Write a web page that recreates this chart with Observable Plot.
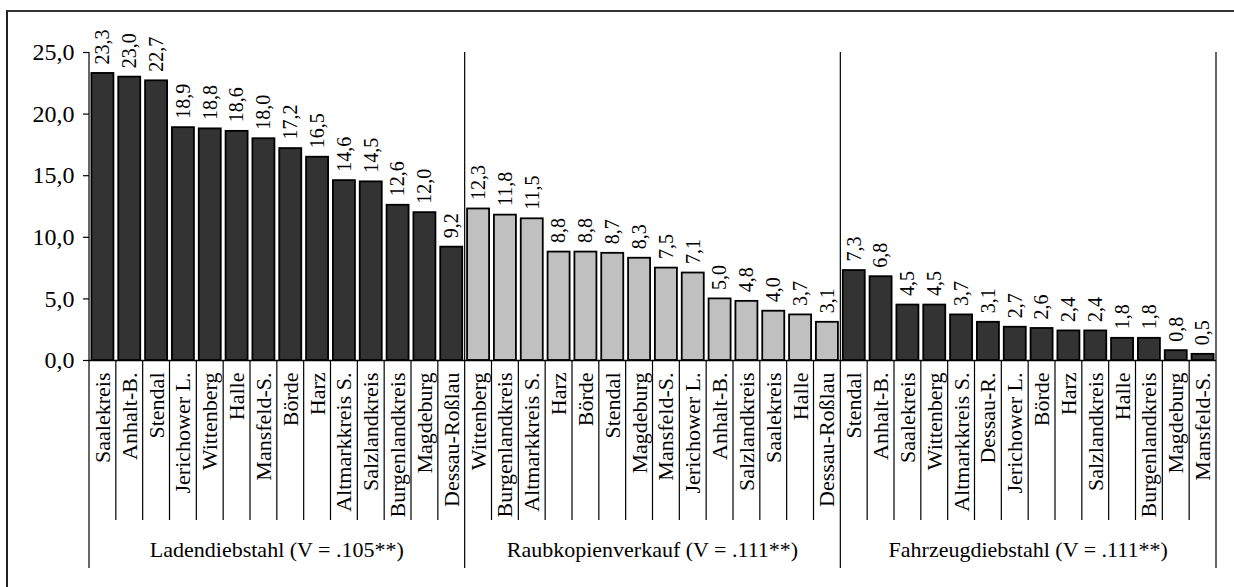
<!DOCTYPE html>
<html>
<head>
<meta charset="utf-8">
<script src="https://cdn.jsdelivr.net/npm/d3@7"></script>
<script src="https://cdn.jsdelivr.net/npm/@observablehq/plot@0.6"></script>
<style>
  html, body { margin: 0; padding: 0; background: #fff; }
  #wrap { position: relative; width: 1234px; height: 587px; overflow: hidden; }
  #frame { position: absolute; left: 6px; top: 10px; width: 1300px; height: 700px;
           border-left: 2px solid #222; border-top: 2px solid #333; box-sizing: border-box; }
  #chart { position: absolute; left: 0; top: 0; }
</style>
</head>
<body>
<div id="wrap"><div id="frame"></div><div id="chart"></div></div>
<script>
// ---- data ----
const groups = ["Ladendiebstahl (V = .105**)", "Raubkopienverkauf (V = .111**)", "Fahrzeugdiebstahl (V = .111**)"];

const ladenNames = ["Saalekreis","Anhalt-B.","Stendal","Jerichower L.","Wittenberg","Halle","Mansfeld-S.","Börde","Harz","Altmarkkreis S.","Salzlandkreis","Burgenlandkreis","Magdeburg","Dessau-Roßlau"];
const ladenValues = [23.3,23.0,22.7,18.9,18.8,18.6,18.0,17.2,16.5,14.6,14.5,12.6,12.0,9.2];

const raubNames = ["Wittenberg","Burgenlandkreis","Altmarkkreis S.","Harz","Börde","Stendal","Magdeburg","Mansfeld-S.","Jerichower L.","Anhalt-B.","Salzlandkreis","Saalekreis","Halle","Dessau-Roßlau"];
const raubValues = [12.3,11.8,11.5,8.8,8.8,8.7,8.3,7.5,7.1,5.0,4.8,4.0,3.7,3.1];

const fahrNames = ["Stendal","Anhalt-B.","Saalekreis","Wittenberg","Altmarkkreis S.","Dessau-R.","Jerichower L.","Börde","Harz","Salzlandkreis","Halle","Burgenlandkreis","Magdeburg","Mansfeld-S."];
const fahrValues = [7.3,6.8,4.5,4.5,3.7,3.1,2.7,2.6,2.4,2.4,1.8,1.8,0.8,0.5];

const yTicks = [0,5,10,15,20,25];

// ---- style ----
const groupFill = ["#333333", "#c0c0c0", "#333333"];

// ---- build table ----
const names = [ladenNames, raubNames, fahrNames];
const values = [ladenValues, raubValues, fahrValues];
const data = [];
names.forEach((arr, g) => arr.forEach((n, i) => data.push({key: g + "|" + i, name: n, value: values[g][i], group: g})));
const keys = data.map(d => d.key);
const nameOf = new Map(data.map(d => [d.key, d.name]));
const fmt = v => v.toFixed(1).replace(".", ",");

const plot = Plot.plot({
  width: 1234, height: 587,
  marginTop: 52, marginRight: 18, marginBottom: 227, marginLeft: 89,
  style: {fontFamily: "'Liberation Serif', 'Times New Roman', serif", color: "black", background: "transparent", overflow: "visible"},
  x: {domain: keys, paddingInner: 0.18, paddingOuter: 0.09, axis: null, label: null},
  y: {domain: [0, 25], axis: null, label: null},
  color: {type: "identity"},
  marks: [
    Plot.barY(data, {x: "key", y: "value", fill: d => groupFill[d.group], stroke: "black", strokeWidth: 1.8}),
    Plot.text(data, {x: "key", y: "value", text: d => fmt(d.value), rotate: -90, textAnchor: "start", dy: -9, fontSize: 20, fill: "black"}),
    Plot.ruleY([0], {stroke: "black", strokeWidth: 1.5}),
    Plot.axisY(yTicks, {tickFormat: fmt, tickSize: 6, tickPadding: 9, fontSize: 24, stroke: "black", strokeWidth: 1.2, label: null}),
    Plot.axisX({tickRotate: -90, tickSize: 0, tickPadding: 12, fontSize: 22, tickFormat: k => nameOf.get(k), label: null})
  ]
});
document.getElementById("chart").appendChild(plot);

// separators and group titles derived from the plot's own scales
const xs = plot.scale("x"), ys = plot.scale("y");
const gap = xs.step - xs.bandwidth;
const bounds = keys.map(k => xs.apply(k) - gap / 2);
bounds.push(xs.apply(keys[keys.length - 1]) + xs.bandwidth + gap / 2);
const y0 = ys.apply(0), yTop = ys.apply(25);
const svg = d3.select(plot);
const gSep = svg.append("g").attr("stroke", "black").attr("stroke-width", 1.2);
bounds.forEach((b, k) => {
  const major = k % 14 === 0;
  gSep.append("line").attr("x1", b).attr("x2", b)
    .attr("y1", major ? yTop : y0).attr("y2", major ? y0 + 208 : y0 + 160);
});
const gLab = svg.append("g").attr("font-size", 22).attr("text-anchor", "middle")
  .attr("font-family", "'Liberation Serif', 'Times New Roman', serif").attr("fill", "black");
groups.forEach((g, i) => {
  gLab.append("text").attr("x", (bounds[i * 14] + bounds[i * 14 + 14]) / 2).attr("y", y0 + 197).text(g);
});
</script>
</body>
</html>
